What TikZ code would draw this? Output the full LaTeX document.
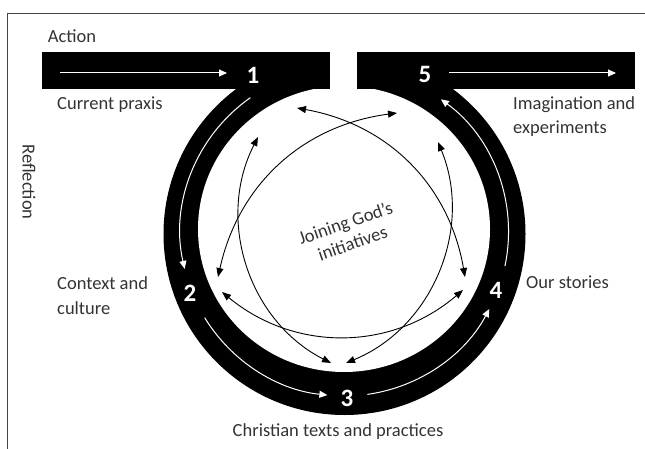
\documentclass[tikz,border=0pt]{standalone}
\usepackage{fontspec}
\setmainfont{Carlito}
\usetikzlibrary{arrows.meta}
\definecolor{txtgray}{HTML}{333333}
\definecolor{framegray}{HTML}{444444}
\begin{document}
\begin{tikzpicture}[x=1pt,y=1pt,
  lbl/.style={inner sep=0pt, text=txtgray, font=\fontsize{18.5}{25}\selectfont},
  num/.style={inner sep=0pt, text=white, font=\bfseries\fontsize{25}{25}\selectfont},
  wflow/.style={draw=white, line width=1pt, -{Triangle[length=8pt,width=7pt]}},
  link/.style={draw=black, line width=0.9pt, {Triangle[length=9pt,width=7pt]}-{Triangle[length=9pt,width=7pt]}}
]
\useasboundingbox (0,0) rectangle (645,448);
\draw[line width=0.8pt, draw=framegray] (7,-5) -- (7,435) -- (650,435);

% black track
\fill[black] (344.5,214) circle (181);
\fill[white] (344,219) ellipse (146 and 143);
\fill[black] (42,359) rectangle (330,396);
\fill[black] (357,359) rectangle (635,396);
\fill[white] (330,352) rectangle (357,400);

% white flow arrows
\coordinate (rc) at (344.5,216);
\coordinate (a1s) at (60,375);
\coordinate (a1e) at (227,375);
\coordinate (a5s) at (449,375);
\coordinate (a5e) at (616,375);
\draw[wflow] (a1s) -- (a1e);
\draw[wflow] (a5s) -- (a5e);
\draw[wflow] ([shift={(125:164)}]rc) arc[start angle=125, end angle=193, radius=164];
\draw[wflow] ([shift={(211.5:164)}]rc) arc[start angle=211.5, end angle=264, radius=164];
\draw[wflow] ([shift={(278:164)}]rc) arc[start angle=278, end angle=332, radius=164];
\draw[wflow] ([shift={(348:164)}]rc) arc[start angle=348, end angle=414, radius=164];

% numbers
\node[num] (n1) at (253,373) {1};
\node[num] (n2) at (190,154.5) {2};
\node[num] (n3) at (347,50) {3};
\node[num] (n4) at (496,158) {4};
\node[num] (n5) at (425,373.5) {5};

% inner links
\coordinate (p1a) at (297,340);
\coordinate (p4a) at (465,171);
\coordinate (p5a) at (397,335);
\coordinate (p2a) at (218,171);
\coordinate (p1b) at (258,311);
\coordinate (p3a) at (331,85);
\coordinate (p5b) at (438,306);
\coordinate (p3b) at (346,85);
\coordinate (p2b) at (222,156);
\coordinate (p4b) at (463,158);
\draw[link] (p1a) to[bend left=35] (p4a);
\draw[link] (p5a) to[bend right=35] (p2a);
\draw[link] (p1b) to[bend right=45] (p3a);
\draw[link] (p5b) to[bend left=45] (p3b);
\draw[link] (p2b) to[bend right=40] (p4b);

% labels
\node[lbl] (action) at (72,412) {Action};
\node[lbl, anchor=base west] (praxis) at (57,338.5) {Current praxis};
\node[lbl, anchor=base west, align=left] (imag) at (513,314) {Imagination and\\experiments};
\node[lbl, anchor=base west, align=left] (context) at (57,134) {Context and\\culture};
\node[lbl, anchor=base west] (stories) at (526,159.5) {Our stories};
\node[lbl, anchor=base] (christ) at (338,12) {Christian texts and practices};
\node[lbl, rotate=-90] (refl) at (29,266) {Reflection};
\node[lbl, rotate=19, align=center, font=\fontsize{18.5}{21.5}\selectfont] (god) at (349,215) {Joining God’s\\initiatives};
\end{tikzpicture}
\end{document}
